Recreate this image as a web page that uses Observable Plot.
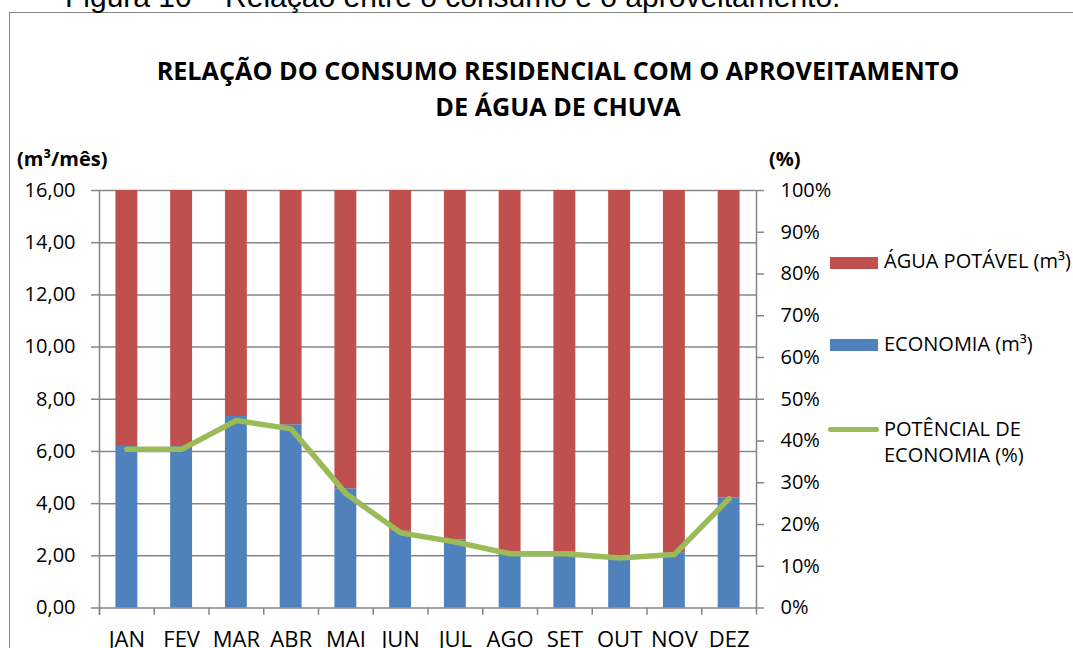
<!DOCTYPE html>
<html>
<head>
<meta charset="utf-8">
<script src="https://cdn.jsdelivr.net/npm/d3@7"></script>
<script src="https://cdn.jsdelivr.net/npm/@observablehq/plot@0.6"></script>
<style>
  body { margin: 0; background: #fff; }
  #wrap { position: relative; width: 1073px; height: 648px; overflow: hidden; font-family: "Open Sans", sans-serif; color: #000; }
  #box { position: absolute; left: 9px; top: 12px; width: 1200px; height: 800px; border: 1.5px solid #868686; box-sizing: border-box; }
  .t { position: absolute; white-space: nowrap; line-height: 1; }
  #caption { left: 65px; top: -18px; font-family: "Liberation Sans", Arial, sans-serif; font-size: 30px; }
  .title { left: 558px; transform: translateX(-50%); font-weight: bold; font-size: 25.2px; }
  .axt { font-weight: bold; font-size: 20px; }
  .leg { font-size: 20px; }
  .sw { position: absolute; }
  #chart { position: absolute; left: 0; top: 0; }
</style>
</head>
<body>
<div id="wrap">
  <div id="box"></div>
  <div class="t" id="caption">Figura 10 – Relação entre o consumo e o aproveitamento.</div>
  <div class="t title" style="top:58px">RELAÇÃO DO CONSUMO RESIDENCIAL COM O APROVEITAMENTO</div>
  <div class="t title" style="top:94px">DE ÁGUA DE CHUVA</div>
  <div class="t axt" style="left:17px; top:149px">(m³/mês)</div>
  <div class="t axt" style="left:769px; top:149px">(%)</div>
  <div id="chart"></div>
  <div class="sw" style="left:830px; top:257px; width:48px; height:12px; background:#C0504D"></div>
  <div class="t leg" style="left:884px; top:251px">ÁGUA POTÁVEL (m³)</div>
  <div class="sw" style="left:830px; top:339px; width:48px; height:12px; background:#4F81BD"></div>
  <div class="t leg" style="left:884px; top:334px">ECONOMIA (m³)</div>
  <div class="sw" style="left:828px; top:426.5px; width:51px; height:5px; border-radius:2.5px; background:#9BBB59"></div>
  <div class="t leg" style="left:884px; top:419px">POTÊNCIAL DE</div>
  <div class="t leg" style="left:884px; top:445px">ECONOMIA (%)</div>
</div>
<script>
// ---- data ----
const months = ["JAN","FEV","MAR","ABR","MAI","JUN","JUL","AGO","SET","OUT","NOV","DEZ"];
const economia = [6.19, 6.19, 7.34, 7.02, 4.57, 2.94, 2.61, 2.14, 2.14, 1.95, 2.12, 4.22];
const aguaPotavel = [9.81, 9.81, 8.66, 8.98, 11.43, 13.06, 13.39, 13.86, 13.86, 14.05, 13.88, 11.78];
const potencial = [38.0, 38.0, 44.9, 42.9, 27.4, 18.0, 15.8, 13.0, 13.0, 12.0, 12.8, 26.2];
const leftTicks = [0, 2, 4, 6, 8, 10, 12, 14, 16];
const rightTicks = [0, 10, 20, 30, 40, 50, 60, 70, 80, 90, 100];
const seriesNames = ["ECONOMIA (m³)", "ÁGUA POTÁVEL (m³)"];

// ---- layout / style ----
const W = 1073, H = 648, mL = 99, mR = 317, mT = 190, mB = 40.5;
const yMax = 16;
const step = (W - mL - mR) / months.length;
const gray = "#868686";
const blue = "#4F81BD", red = "#C0504D", green = "#9BBB59";
const toY = p => p / 100 * yMax;
const tickLen = 0.28;

const rows = [];
months.forEach((m, i) => {
  rows.push({month: m, serie: seriesNames[0], v: economia[i]});
  rows.push({month: m, serie: seriesNames[1], v: aguaPotavel[i]});
});
const lineRows = months.map((m, i) => ({month: m, pct: potencial[i]}));

const chart = Plot.plot({
  width: W, height: H,
  marginLeft: mL, marginRight: mR, marginTop: mT, marginBottom: mB,
  style: {fontFamily: '"Open Sans", sans-serif', fontSize: "20px", color: "#000", background: "transparent", overflow: "visible"},
  x: {domain: months, paddingInner: 0.6, paddingOuter: 0.3, round: false, label: null},
  y: {domain: [0, yMax], label: null},
  color: {domain: seriesNames, range: [blue, red]},
  marks: [
    Plot.gridY({ticks: leftTicks, stroke: gray, strokeOpacity: 1, strokeWidth: 1.5}),
    Plot.barY(rows, {x: "month", y: "v", fill: "serie"}),
    Plot.lineY(lineRows, {x: "month", y: d => toY(d.pct), stroke: green, strokeWidth: 5.5, strokeLinejoin: "round"}),
    Plot.axisY({ticks: leftTicks, tickFormat: d => d.toFixed(2).replace(".", ","), tickSize: 8, tickPadding: 16, stroke: gray, strokeWidth: 1.5, strokeOpacity: 1, label: null}),
    Plot.axisY({anchor: "right", ticks: rightTicks.map(toY), tickFormat: d => Math.round(d / yMax * 100) + "%", tickSize: 7, tickPadding: 17, stroke: gray, strokeWidth: 1.5, strokeOpacity: 1, label: null}),
    Plot.axisX({tickSize: 0, tickPadding: 23, label: null, fontSize: 22}),
    Plot.ruleX(months, {x: d => d, y1: -tickLen, y2: 0, dx: -step / 2, stroke: gray, strokeWidth: 1.5}),
    Plot.ruleX([months[0]], {x: d => d, y1: -tickLen, y2: yMax, dx: -step / 2, stroke: gray, strokeWidth: 1.5}),
    Plot.ruleX([months[months.length - 1]], {x: d => d, y1: -tickLen, y2: yMax, dx: step / 2, stroke: gray, strokeWidth: 1.5})
  ]
});
document.getElementById("chart").appendChild(chart);
</script>
</body>
</html>
